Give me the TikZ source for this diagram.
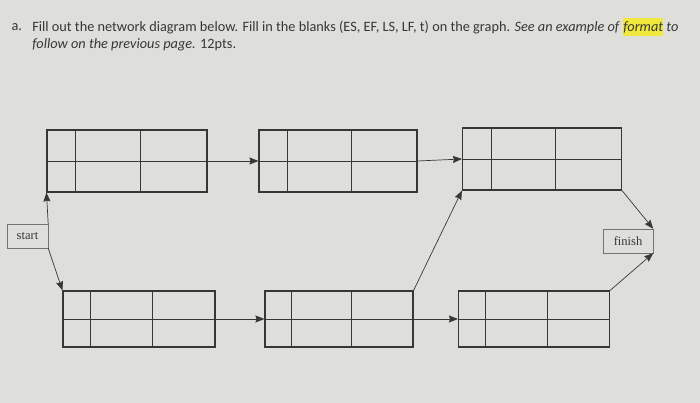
\documentclass[tikz,border=0pt]{standalone}
\usepackage{fontspec}
\setmainfont{Carlito}
\newfontfamily\boxfont{Liberation Serif}
\usetikzlibrary{arrows.meta,calc,shapes}
\definecolor{paper}{RGB}{222,222,219}
\definecolor{ink}{RGB}{55,55,55}
\definecolor{marker}{RGB}{240,232,60}

\begin{document}
\begin{tikzpicture}[x=1pt,y=1pt,>={Stealth[length=9pt,width=7pt,inset=1pt]},semithick]
\tikzstyle{activity}=[draw=ink,line width=1.1pt,rectangle,inner sep=0pt]
\tikzstyle{endpoint}=[draw=ink!70,thin,rectangle,inner sep=0pt,text=ink,font=\boxfont\fontsize{12.5}{14}\selectfont]
\tikzstyle{divider}=[draw=ink,line width=0.5pt]
\tikzstyle{link}=[->,draw=ink,line width=0.7pt]
\fill[paper] (0,0) rectangle (700,403);
\useasboundingbox (0,0) rectangle (700,403);
% title
\node[anchor=base west,text=ink,font=\fontsize{14.3}{17}\selectfont] (item) at (8,372) {a.};
\node[anchor=north west,text=ink,align=left,inner sep=0pt,font=\fontsize{14.3}{17}\selectfont] (task) at (32,385)
  {Fill out the network diagram below. Fill in the blanks (ES, EF, LS, LF, t) on the graph. \textit{See an example of} \colorbox{marker}{\hspace{-3pt}\textit{format}\hspace{-3pt}} \textit{to}\\
   \textit{follow on the previous page.} 12pts.};
% activities
\node[activity,minimum width=160,minimum height=62] (A) at (127,242) {};
\node[activity,minimum width=158,minimum height=62] (B) at (338,242) {};
\node[activity,minimum width=159,minimum height=62] (C) at (542,244) {};
\node[activity,minimum width=152,minimum height=56] (D) at (139,84) {};
\node[activity,minimum width=148,minimum height=56] (E) at (339,84) {};
\node[activity,minimum width=151,minimum height=56] (F) at (534,84) {};
\foreach \n in {A,B,C,D,E,F}{
  \draw[divider] (\n.west) -- (\n.east);
  \draw[divider] ($(\n.north west)!0.18!(\n.north east)$) -- ($(\n.south west)!0.18!(\n.south east)$);
  \draw[divider] ($(\n.north west)!0.585!(\n.north east)$) -- ($(\n.south west)!0.585!(\n.south east)$);
}
\node[endpoint,minimum width=41,minimum height=24] (start) at (27.5,167) {start};
\node[endpoint,minimum width=50,minimum height=24] (finish) at (628,162) {finish};
% connectors
\path (start.north east) edge[link] (A.south west)
      (start.south east) edge[link] (D.north west)
      (A.east) edge[link] (B.west)
      (B.east) edge[link] (C.west)
      (D.east) edge[link] (E.west)
      (E.east) edge[link] (F.west)
      (E.north east) edge[link] (C.south west)
      (C.south east) edge[link] (finish.north east)
      (F.north east) edge[link] (finish.south east);
\end{tikzpicture}
\end{document}
